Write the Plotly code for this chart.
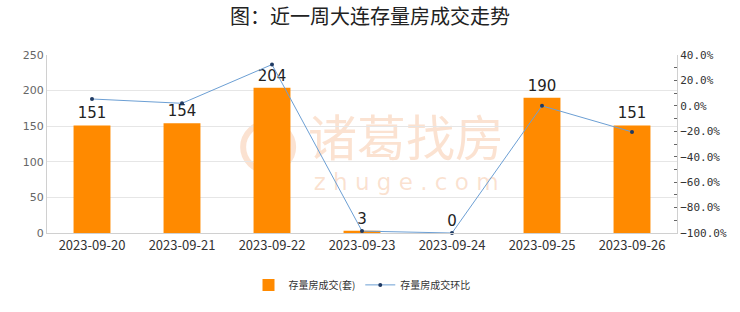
import plotly.graph_objects as go

dates = ["2023-09-20", "2023-09-21", "2023-09-22", "2023-09-23", "2023-09-24", "2023-09-25", "2023-09-26"]
volume = [151, 154, 204, 3, 0, 190, 151]
change = [0.054, 0.020, 0.325, -0.985, -1.0, 0.0, -0.205]

bar_name = "存量房成交(套)"
line_name = "存量房成交环比"
title_text = "图：近一周大连存量房成交走势"
wm_main = "诸葛找房"
wm_sub = "z h u g e . c o m"

FONT = "Noto Sans CJK SC"

fig = go.Figure()
fig.add_trace(go.Bar(
    x=dates, y=volume, name=bar_name, width=0.41,
    marker=dict(color="#FF8A00", line=dict(width=0)),
    text=[str(v) for v in volume], textposition="outside",
    textfont=dict(size=15, color="#222222", family="DejaVu Sans"),
    cliponaxis=False, yaxis="y",
))
fig.add_trace(go.Scatter(
    x=dates, y=change, name=line_name, mode="lines+markers",
    line=dict(color="#6C9FD4", width=1),
    marker=dict(color="#1F3A63", size=4),
    yaxis="y2", cliponaxis=False,
))

fig.update_layout(
    width=740, height=312,
    margin=dict(l=47, r=63, t=55, b=79),
    paper_bgcolor="white", plot_bgcolor="white",
    font=dict(family=FONT, color="#333333"),
    title=dict(text=title_text, x=0.5, xanchor="center", y=0.945, yanchor="middle",
               font=dict(size=20, color="#222222", family=FONT)),
    showlegend=True,
    legend=dict(orientation="h", x=0.5, xanchor="center", y=-0.21, yanchor="top",
                font=dict(size=10, color="#333333", family=FONT),
                itemwidth=30, bgcolor="rgba(0,0,0,0)"),
    xaxis=dict(type="category", showline=True, linecolor="#D0D0D0", linewidth=1,
               showgrid=False, ticks="", tickfont=dict(size=13, color="#333333", family=FONT),
               mirror=False),
    yaxis=dict(range=[0, 250], dtick=50, showgrid=True, gridcolor="#E6E6E6", gridwidth=1,
               showline=True, linecolor="#D0D0D0", linewidth=1, zeroline=False,
               ticks="", tickfont=dict(size=11, color="#666666", family="DejaVu Sans")),
    yaxis2=dict(range=[-1.0, 0.4], dtick=0.2, tickformat=".1%", overlaying="y", side="right",
                showgrid=False, zeroline=False, showline=True, linecolor="#D0D0D0", linewidth=1,
                ticks="inside", ticklen=3, tickcolor="#666666",
                minor=dict(dtick=0.1, ticks="inside", ticklen=3, tickcolor="#666666"),
                tickfont=dict(size=11, color="#333333", family="DejaVu Sans Mono")),
)

wm_color = "rgba(240,150,90,0.28)"
fig.add_shape(type="rect", xref="paper", yref="paper", x0=0.3, x1=0.84, y0=0.40, y1=0.62,
              line=dict(width=0), fillcolor="rgba(0,0,0,0)", layer="below",
              label=dict(text=wm_main, font=dict(size=49, color=wm_color, family=FONT),
                         textposition="middle center"))
fig.add_shape(type="rect", xref="paper", yref="paper", x0=0.3, x1=0.84, y0=0.22, y1=0.38,
              line=dict(width=0), fillcolor="rgba(0,0,0,0)", layer="below",
              label=dict(text=wm_sub, font=dict(size=23, color=wm_color, family="DejaVu Sans"),
                         textposition="middle center"))
fig.add_shape(type="circle", xref="paper", yref="paper", xsizemode="pixel", ysizemode="pixel",
              xanchor=0.351, yanchor=0.483, x0=-25, x1=25, y0=-24, y1=24,
              line=dict(width=6, color=wm_color), layer="below")

fig.write_html("out.html")
